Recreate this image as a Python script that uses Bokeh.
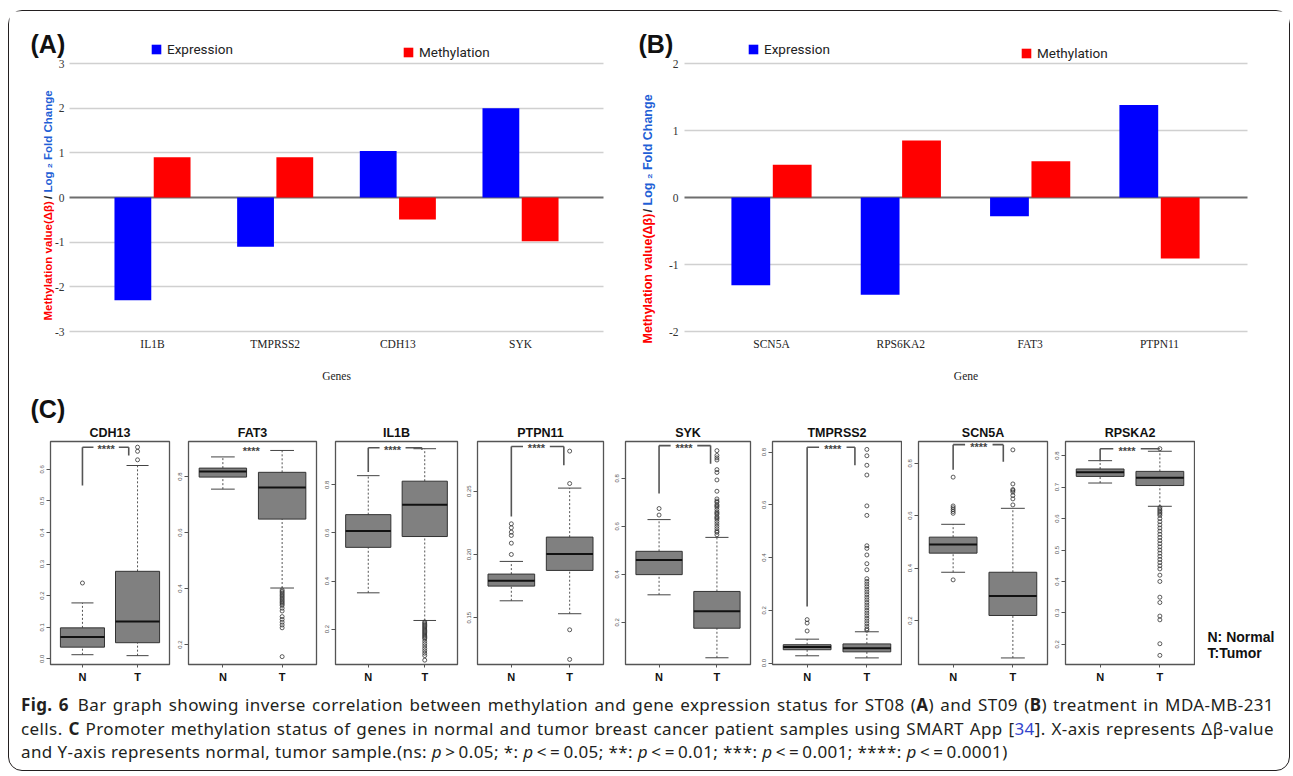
import math
from bokeh.plotting import figure
from bokeh.models import (ColumnDataSource, Range1d, FixedTicker, Label, Legend, Grid,
                          LegendItem, Div, PrintfTickFormatter, Title)
from bokeh.transform import dodge
from bokeh.layouts import row, column
from bokeh.core.properties import value
from bokeh.embed import file_html
from bokeh.resources import INLINE

# ---------------- Panel A / B data ----------------
genes_a = ["IL1B", "TMPRSS2", "CDH13", "SYK"]
expression_a = [-2.30, -1.10, 1.04, 2.00]
methylation_a = [0.90, 0.90, -0.49, -0.98]
yticks_a = [-3, -2, -1, 0, 1, 2, 3]

genes_b = ["SCN5A", "RPS6KA2", "FAT3", "PTPN11"]
expression_b = [-1.31, -1.45, -0.28, 1.38]
methylation_b = [0.49, 0.85, 0.54, -0.91]
yticks_b = [-2, -1, 0, 1, 2]

# ---------------- Panel C data ----------------
# box stats: [lower whisker, Q1, median, Q3, upper whisker]
groups_c = ["N", "T"]

cdh13_n = [0.013, 0.037, 0.069, 0.098, 0.177]
cdh13_n_out = [0.24]
cdh13_t = [0.010, 0.051, 0.118, 0.277, 0.612]
cdh13_t_out = [0.630, 0.657, 0.670]
cdh13_sig = [0.549, 0.670, 0.644]

fat3_n = [0.755, 0.798, 0.818, 0.830, 0.870]
fat3_n_out = []
fat3_t = [0.402, 0.648, 0.761, 0.815, 0.893]
fat3_t_out = [0.395, 0.390, 0.385, 0.380, 0.375, 0.370, 0.365, 0.360, 0.355, 0.350,
              0.345, 0.340, 0.330, 0.320, 0.300, 0.290, 0.280, 0.270, 0.260, 0.157]
fat3_sig = [0.899, 0.899, 0.899]

il1b_n = [0.351, 0.540, 0.608, 0.676, 0.838]
il1b_n_out = []
il1b_t = [0.236, 0.585, 0.717, 0.815, 0.950]
il1b_t_out = [0.230, 0.225, 0.220, 0.215, 0.210, 0.205, 0.200, 0.195, 0.190, 0.185,
              0.180, 0.175, 0.170, 0.165, 0.160, 0.150, 0.140, 0.130, 0.120, 0.110,
              0.100, 0.090, 0.071]
il1b_sig = [0.853, 0.954, 0.946]

ptpn11_n = [0.1634, 0.1750, 0.1792, 0.1845, 0.1945]
ptpn11_n_out = [0.2000, 0.2089, 0.2150, 0.2176, 0.2211, 0.2242]
ptpn11_t = [0.1532, 0.1874, 0.2003, 0.2137, 0.2524]
ptpn11_t_out = [0.2560, 0.2816, 0.1405, 0.1171]
ptpn11_sig = [0.2300, 0.2853, 0.2705]

syk_n = [0.315, 0.399, 0.460, 0.496, 0.628]
syk_n_out = [0.647, 0.674]
syk_t = [0.053, 0.176, 0.247, 0.329, 0.554]
syk_t_out = [0.915, 0.895, 0.885, 0.876, 0.836, 0.824, 0.793, 0.746, 0.714, 0.705,
             0.700, 0.690, 0.685, 0.680, 0.670, 0.660, 0.655, 0.650, 0.640, 0.635,
             0.630, 0.620, 0.610, 0.600, 0.590, 0.580, 0.575, 0.565]
syk_sig = [0.737, 0.936, 0.860]

tmprss2_n = [0.028, 0.051, 0.061, 0.070, 0.091]
tmprss2_n_out = [0.122, 0.152, 0.165]
tmprss2_t = [0.020, 0.043, 0.057, 0.073, 0.119]
tmprss2_t_out = [0.810, 0.786, 0.750, 0.713, 0.596, 0.560, 0.445, 0.435, 0.410, 0.377,
                 0.354, 0.320, 0.310, 0.300, 0.290, 0.280, 0.270, 0.260, 0.250, 0.240,
                 0.230, 0.220, 0.210, 0.200, 0.190, 0.180, 0.170, 0.160, 0.150, 0.140,
                 0.130, 0.125]
tmprss2_sig = [0.215, 0.818, 0.750]

scn5a_n = [0.384, 0.457, 0.490, 0.518, 0.567]
scn5a_n_out = [0.355, 0.637, 0.630, 0.623, 0.616, 0.609, 0.747]
scn5a_t = [0.057, 0.219, 0.293, 0.384, 0.628]
scn5a_t_out = [0.641, 0.664, 0.677, 0.690, 0.696, 0.700, 0.721, 0.851]
scn5a_sig = [0.775, 0.871, 0.806]

rpska2_n = [0.713, 0.734, 0.747, 0.7576, 0.784]
rpska2_n_out = []
rpska2_t = [0.639, 0.705, 0.730, 0.750, 0.814]
rpska2_t_out = [0.822, 0.635, 0.630, 0.625, 0.620, 0.615, 0.610, 0.600, 0.590, 0.580,
                0.570, 0.560, 0.550, 0.540, 0.530, 0.520, 0.510, 0.500, 0.490, 0.480,
                0.470, 0.460, 0.450, 0.440, 0.420, 0.400, 0.350, 0.333, 0.290, 0.278,
                0.202, 0.165]
rpska2_sig = [0.782, 0.822, 0.822]

SANS = "Liberation Sans"
SERIF = "Liberation Serif"
BLUE = "#0000ff"
RED = "#ff0000"
TITLE_BLUE = "#1f5fd6"

ROW1_TOP, ROW1_H = 11, 381  # page pixels of the bar-chart row


def bar_panel(genes, expr, meth, yticks, letter, xlabel, fig_left, width,
              plot_left, plot_right, first_cat_px, cat_step_px, ytop_px, ybot_px,
              leg1, leg2, title_x, title_pieces, title_size, ylab_standoff):
    """The frame covers the whole figure; axes are placed with fixed_location."""
    xs = list(range(len(genes)))
    src = ColumnDataSource(dict(x=xs, expr=expr, meth=meth))

    def xdata(px):
        return (px - first_cat_px) / cat_step_px
    ypx_per = (ybot_px - ytop_px) / (yticks[-1] - yticks[0])

    def ydata(py):
        return yticks[-1] - (py - ytop_px) / ypx_per
    fig_right = fig_left + width
    fig_top, fig_bot = ROW1_TOP, ROW1_TOP + ROW1_H
    p = figure(x_range=Range1d(xdata(fig_left), xdata(fig_right)),
               y_range=Range1d(ydata(fig_bot), ydata(fig_top)),
               width=width, height=ROW1_H, min_border=0, title=None,
               toolbar_location=None, output_backend="svg")
    r1 = p.vbar(x=dodge("x", -0.16), top="expr", width=0.30, source=src,
                fill_color=BLUE, line_color=None)
    r2 = p.vbar(x=dodge("x", 0.16), top="meth", width=0.30, source=src,
                fill_color=RED, line_color=None)
    p.outline_line_color = None
    p.grid.grid_line_color = None
    cross = (xdata(plot_left), xdata(plot_right))
    g = Grid(dimension=1, ticker=FixedTicker(ticks=[t for t in yticks if t != 0]),
             grid_line_color="#d0d0d0", grid_line_width=1.5, cross_bounds=cross)
    g0 = Grid(dimension=1, ticker=FixedTicker(ticks=[0]),
              grid_line_color="#6e6e6e", grid_line_width=2, cross_bounds=cross)
    p.add_layout(g)
    p.add_layout(g0)

    p.yaxis.fixed_location = xdata(plot_left)
    p.yaxis.ticker = FixedTicker(ticks=yticks)
    p.yaxis.major_label_overrides = {t: str(t) for t in yticks}
    p.yaxis.axis_line_color = None
    p.yaxis.major_tick_line_color = None
    p.yaxis.major_tick_out = 0
    p.yaxis.major_tick_in = 0
    p.yaxis.minor_tick_line_color = None
    p.yaxis.minor_tick_out = 0
    p.yaxis.major_label_standoff = ylab_standoff
    p.yaxis.major_label_text_font = SERIF
    p.yaxis.major_label_text_font_size = "11.5px"
    p.yaxis.major_label_text_color = "#333333"

    p.xaxis.fixed_location = yticks[0]
    p.xaxis.bounds = cross
    p.xaxis.ticker = FixedTicker(ticks=xs)
    p.xaxis.major_label_overrides = {x: gname for x, gname in zip(xs, genes)}
    p.xaxis.axis_line_color = None
    p.xaxis.major_tick_line_color = None
    p.xaxis.major_tick_out = 0
    p.xaxis.major_tick_in = 0
    p.xaxis.minor_tick_line_color = None
    p.xaxis.minor_tick_out = 0
    p.xaxis.major_label_standoff = 6
    p.xaxis.major_label_text_font = SERIF
    p.xaxis.major_label_text_font_size = "11.5px"
    p.xaxis.major_label_text_color = "#222222"
    p.xaxis.axis_label = xlabel
    p.xaxis.axis_label_text_font = SERIF
    p.xaxis.axis_label_text_font_style = "normal"
    p.xaxis.axis_label_text_font_size = "11.5px"
    p.xaxis.axis_label_text_color = "#222222"
    p.xaxis.axis_label_standoff = 17

    def sx(px):
        return px - fig_left

    def sy(py):
        return fig_bot - py

    for (lx, ly), lab, r in ((leg1, "Expression", r1), (leg2, "Methylation", r2)):
        lg = Legend(items=[LegendItem(label=lab, renderers=[r])], location=(sx(lx), sy(ly)),
                    orientation="horizontal", padding=0, margin=0, spacing=0,
                    border_line_color=None, background_fill_alpha=0,
                    glyph_width=12, glyph_height=12, label_height=12, label_standoff=5,
                    label_text_font="Roboto", label_text_font_size="13.5px",
                    label_text_color="#222222")
        p.add_layout(lg)

    for txt, ty, col, align in title_pieces:
        p.add_layout(Label(x=sx(title_x), y=sy(ty), x_units="screen", y_units="screen",
                           text=txt, angle=math.pi / 2, text_align=align,
                           text_baseline="middle", text_font=SANS, text_font_style="bold",
                           text_font_size=title_size, text_color=col))
    p.add_layout(Label(x=sx(fig_left + 21), y=sy(43), x_units="screen", y_units="screen",
                       text=letter, text_align="left", text_baseline="middle",
                       text_font=SANS, text_font_style="bold", text_font_size="25px",
                       text_color="#111111"))
    return p


pA = bar_panel(genes_a, expression_a, methylation_a, yticks_a, "(A)", "Genes",
               9, 608, 69, 603, 152, 122.67, 63, 331,
               (150, 57), (402, 60), 47.7,
               [("Methylation value(\u0394\u03b2)", 320, RED, "left"),
                ("/", 197, "#222222", "center"),
                ("Log \u2082 Fold Change", 192, TITLE_BLUE, "left")],
               "11.5px", 5)
pB = bar_panel(genes_b, expression_b, methylation_b, yticks_b, "(B)", "Gene",
               617, 672, 684, 1247, 771, 129.33, 63, 331,
               (747, 57), (1020, 61), 647,
               [("Methylation value(\u0394\u03b2)", 343, RED, "left"),
                ("/", 210, "#222222", "center"),
                ("Log \u2082 Fold Change", 205, TITLE_BLUE, "left")],
               "12.5px", 6)


def box_panel(name, n, n_out, t, t_out, ylim, yticks, fmt, sig, width, bl, br,
              star_x=1.43, right_x=1.9, lines=True, letter=None):
    p = figure(width=width, height=298, x_range=Range1d(0.42, 2.58), y_range=Range1d(*ylim),
               min_border_left=bl, min_border_right=br, min_border_top=49, min_border_bottom=26,
               toolbar_location=None, output_backend="svg")
    xs = [1, 2]
    src = ColumnDataSource(dict(
        x=xs, lw=[n[0], t[0]], q1=[n[1], t[1]], med=[n[2], t[2]], q3=[n[3], t[3]],
        uw=[n[4], t[4]], left=[x - 0.4 for x in xs], right=[x + 0.4 for x in xs],
        sl=[x - 0.2 for x in xs], sr=[x + 0.2 for x in xs]))
    p.segment(x0="x", y0="q3", x1="x", y1="uw", source=src, line_color="#555555",
              line_width=1, line_dash="2 2")
    p.segment(x0="x", y0="lw", x1="x", y1="q1", source=src, line_color="#555555",
              line_width=1, line_dash="2 2")
    p.segment(x0="sl", y0="uw", x1="sr", y1="uw", source=src, line_color="#444444", line_width=1)
    p.segment(x0="sl", y0="lw", x1="sr", y1="lw", source=src, line_color="#444444", line_width=1)
    p.quad(left="left", right="right", bottom="q1", top="q3", source=src,
           fill_color="#808080", line_color="#333333", line_width=1)
    p.segment(x0="left", y0="med", x1="right", y1="med", source=src,
              line_color="#111111", line_width=2)
    ox = [xs[0]] * len(n_out) + [xs[1]] * len(t_out)
    oy = list(n_out) + list(t_out)
    p.scatter(ox, oy, marker="circle", size=4, fill_color=None, line_color="#333333",
              line_width=0.8)

    yl, ytop, yr = sig
    if lines:
        p.segment(x0=[1, 1, star_x + 0.23], y0=[yl, ytop, ytop],
                  x1=[1, star_x - 0.23, right_x], y1=[ytop, ytop, ytop],
                  line_color="#555555", line_width=1.6)
        if yr != ytop:
            p.segment(x0=[right_x], y0=[ytop], x1=[right_x], y1=[yr],
                      line_color="#555555", line_width=1.6)
    p.text(x=[star_x], y=[ytop], text=["****"], text_align="center", text_baseline="middle",
           y_offset=2, text_font=value(SANS), text_font_style="bold", text_font_size="11px",
           text_color="#444444")

    p.outline_line_color = "#555555"
    p.outline_line_width = 1.3
    p.grid.grid_line_color = None
    p.yaxis.ticker = FixedTicker(ticks=yticks)
    p.yaxis.formatter = PrintfTickFormatter(format=fmt)
    p.yaxis.major_label_orientation = "vertical"
    p.yaxis.axis_line_color = None
    p.yaxis.major_tick_in = 0
    p.yaxis.major_tick_out = 4
    p.yaxis.major_tick_line_color = "#555555"
    p.yaxis.minor_tick_line_color = None
    p.yaxis.major_label_standoff = 2
    p.yaxis.major_label_text_font = SANS
    p.yaxis.major_label_text_font_size = "6px"
    p.yaxis.major_label_text_color = "#555555"
    p.xaxis.ticker = FixedTicker(ticks=xs)
    p.xaxis.major_label_overrides = {xs[0]: groups_c[0], xs[1]: groups_c[1]}
    p.xaxis.axis_line_color = None
    p.xaxis.major_tick_in = 0
    p.xaxis.major_tick_out = 3
    p.xaxis.major_tick_line_color = "#555555"
    p.xaxis.minor_tick_line_color = None
    p.xaxis.major_label_standoff = 3
    p.xaxis.major_label_text_font = SANS
    p.xaxis.major_label_text_font_style = "bold"
    p.xaxis.major_label_text_font_size = "11px"
    p.xaxis.major_label_text_color = "#111111"

    name_title = dict(text=name, align="center", standoff=3, text_font=SANS,
                      text_font_style="bold", text_font_size="12.5px", text_color="#111111")
    if letter is None:
        for k, v in name_title.items():
            setattr(p.title, k, v)
    else:
        # panel letter farther from the frame, gene name right above the frame
        p.title.text = letter
        p.title.align = "left"
        p.title.offset = -20
        p.title.standoff = 0
        p.title.text_font = SANS
        p.title.text_font_style = "bold"
        p.title.text_font_size = "25px"
        p.title.text_color = "#111111"
        p.add_layout(Title(**name_title), "above")
    return p


b1 = box_panel("CDH13", cdh13_n, cdh13_n_out, cdh13_t, cdh13_t_out, (-0.018, 0.688),
               [0.0, 0.1, 0.2, 0.3, 0.4, 0.5, 0.6], "%.1f", cdh13_sig, 163, 41, 3,
               right_x=1.84, letter="(C)")
b2 = box_panel("FAT3", fat3_n, fat3_n_out, fat3_t, fat3_t_out, (0.129, 0.925),
               [0.2, 0.4, 0.6, 0.8], "%.1f", fat3_sig, 147, 16, 3, star_x=1.48, lines=False)
b3 = box_panel("IL1B", il1b_n, il1b_n_out, il1b_t, il1b_t_out, (0.053, 0.980),
               [0.2, 0.4, 0.6, 0.8], "%.1f", il1b_sig, 142, 16, 4, right_x=1.95)
b4 = box_panel("PTPN11", ptpn11_n, ptpn11_n_out, ptpn11_t, ptpn11_t_out, (0.1131, 0.2892),
               [0.15, 0.20, 0.25], "%.2f", ptpn11_sig, 148, 16, 6, right_x=1.9)
b5 = box_panel("SYK", syk_n, syk_n_out, syk_t, syk_t_out, (0.025, 0.953),
               [0.2, 0.4, 0.6, 0.8], "%.1f", syk_sig, 147, 16, 6, right_x=1.89)
b6 = box_panel("TMPRSS2", tmprss2_n, tmprss2_n_out, tmprss2_t, tmprss2_t_out, (-0.005, 0.840),
               [0.0, 0.2, 0.4, 0.6, 0.8], "%.1f", tmprss2_sig, 146, 16, 1, right_x=1.8)
b7 = box_panel("SCN5A", scn5a_n, scn5a_n_out, scn5a_t, scn5a_t_out, (0.032, 0.883),
               [0.2, 0.4, 0.6, 0.8], "%.1f", scn5a_sig, 147, 16, 2, right_x=1.84)
b8 = box_panel("RPSKA2", rpska2_n, rpska2_n_out, rpska2_t, rpska2_t_out, (0.136, 0.845),
               [0.2, 0.3, 0.4, 0.5, 0.6, 0.7, 0.8], "%.1f", rpska2_sig, 146, 16, 1,
               star_x=1.45, right_x=2.0)

# key for the box plots; its frame is aligned with the box-plot frames in the row
key = figure(width=94, height=298, x_range=Range1d(0, 1), y_range=Range1d(0, 1),
             min_border=0, title=None, x_axis_location=None, y_axis_location=None,
             toolbar_location=None, output_backend="svg")
key.outline_line_color = None
key.grid.grid_line_color = None
for txt, yy in (("N: Normal", 28), ("T:Tumor", 12)):
    key.add_layout(Label(x=12, y=yy, x_units="screen", y_units="screen", text=txt,
                         text_align="left", text_baseline="middle", text_font=SANS,
                         text_font_style="bold", text_font_size="14px", text_color="#111111"))

line_style = "white-space:nowrap;text-align:justify;text-align-last:justify;width:1253px;"
caption_html = (
    "<div style=\"font-family:'Noto Sans',sans-serif;font-size:17px;letter-spacing:0.4px;"
    "color:#231f20;line-height:23.5px;padding:3px 15px 0 12px;width:1253px;\">"
    f"<div style=\"{line_style}\"><b>Fig. 6</b>&ensp;Bar graph showing inverse correlation between "
    "methylation and gene expression status for ST08 (<b>A</b>) and ST09 (<b>B</b>) treatment in MDA-MB-231</div>"
    f"<div style=\"{line_style}\">cells. <b>C</b> Promoter methylation status of genes in normal and tumor "
    "breast cancer patient samples using SMART App [<span style=\"color:#3344cc\">34</span>]. "
    "X-axis represents \u0394\u03b2-value</div>"
    "<div style=\"white-space:nowrap;\">and Y-axis represents normal, tumor sample.(ns: <i>p</i>&thinsp;&gt;&thinsp;0.05; "
    "*: <i>p</i>&thinsp;&lt;&thinsp;=&thinsp;0.05; **: <i>p</i>&thinsp;&lt;&thinsp;=&thinsp;0.01; "
    "***: <i>p</i>&thinsp;&lt;&thinsp;=&thinsp;0.001; ****: <i>p</i>&thinsp;&lt;&thinsp;=&thinsp;0.0001)</div>"
    "</div>")
caption = Div(text=caption_html, width=1280, height=80, margin=0)

layout = column(row(pA, pB), row(b1, b2, b3, b4, b5, b6, b7, b8, key), caption,
                margin=(10, 0, 0, 8),
                styles={"border": "1px solid #231f20", "border-radius": "14px"})

open("out.html", "w").write(file_html(layout, INLINE))
